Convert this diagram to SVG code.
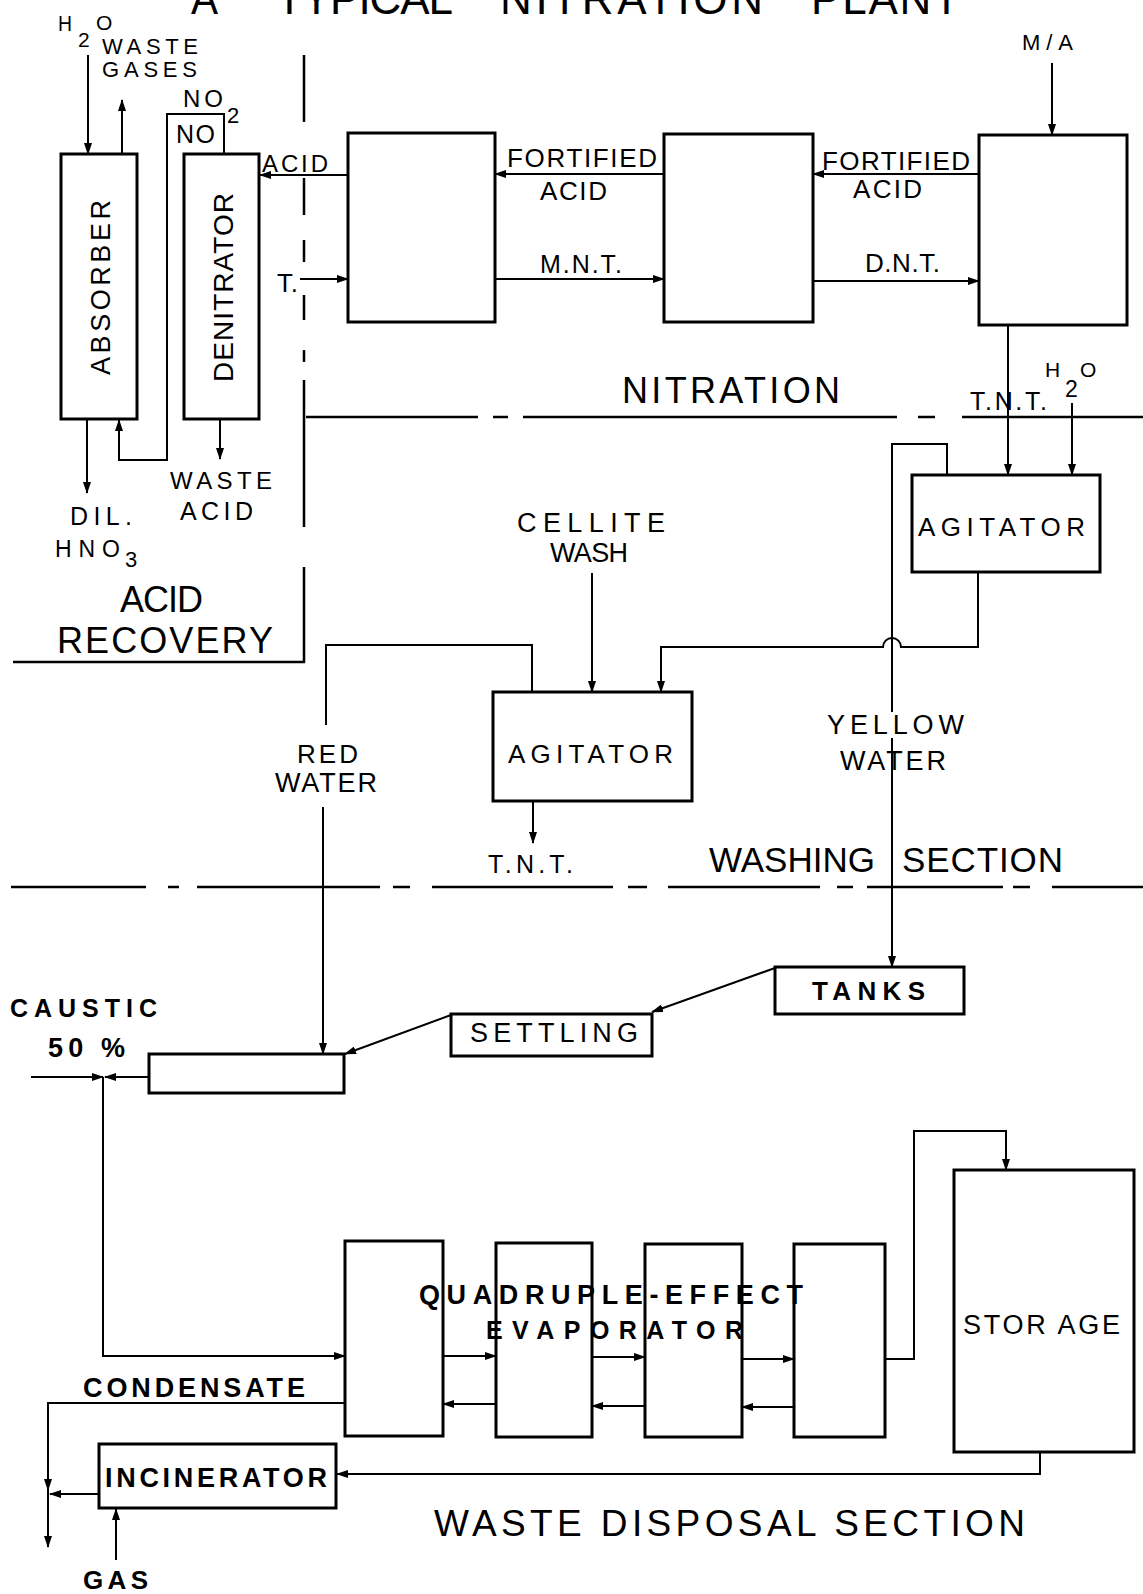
<svg xmlns="http://www.w3.org/2000/svg" width="1143" height="1594" viewBox="0 0 1143 1594">
<style>
.bg{fill:#fff}
.box{fill:none;stroke:#000;stroke-width:3}
.ln{fill:none;stroke:#000;stroke-width:2}
.bd{fill:none;stroke:#000;stroke-width:2.5}
.ar{marker-end:url(#ah)}
text{font-family:"Liberation Sans",Arial,sans-serif;fill:#000}
</style>
<defs>
<marker id="ah" markerUnits="userSpaceOnUse" markerWidth="12" markerHeight="8" refX="11" refY="4" orient="auto">
<path d="M0,0 L12,4 L0,8 z" fill="#000"/>
</marker>
</defs>
<rect class="bg" x="0" y="0" width="1143" height="1594"/>

<g id="title">
<text x="191" y="14" font-size="44" textLength="27" lengthAdjust="spacingAndGlyphs">A</text>
<text x="276" y="14" font-size="44" textLength="177" lengthAdjust="spacing">TYPICAL</text>
<text x="500" y="14" font-size="44" textLength="263" lengthAdjust="spacing">NITRATION</text>
<text x="811" y="14" font-size="44" textLength="149" lengthAdjust="spacing">PLANT</text>
</g>

<g id="section-boundaries">
<path class="bd" d="M304,55 V122 M304,178 V215 M304,240 V262 M304,295 V320 M304,350 V362 M304,380 V527 M304,567 V662 H13"/>
<path class="bd" d="M306,417 H478 M493,417 H508 M523,417 H897 M918,417 H935 M962,417 H1143"/>
<path class="bd" d="M11,887 H146 M168,887 H179 M197,887 H380 M393,887 H410 M432,887 H613 M628,887 H647 M668,887 H820 M837,887 H853 M867,887 H1003 M1013,887 H1030 M1052,887 H1143"/>
<text x="622" y="403" font-size="36" textLength="218" lengthAdjust="spacing">NITRATION</text>
<text x="120" y="612" font-size="36" textLength="83" lengthAdjust="spacing">ACID</text>
<text x="57" y="653" font-size="36" textLength="216" lengthAdjust="spacing">RECOVERY</text>
<text x="709" y="872" font-size="35" textLength="166" lengthAdjust="spacing">WASHING</text>
<text x="902" y="872" font-size="35" textLength="161" lengthAdjust="spacing">SECTION</text>
<text x="434" y="1536" font-size="37" textLength="591" lengthAdjust="spacing">WASTE DISPOSAL SECTION</text>
</g>

<g id="connectors">
<path class="ln ar" d="M88,55 V154"/>
<path class="ln ar" d="M122,154 V100"/>
<path class="ln ar" d="M224,154 V114 H167 V460 H119 V420"/>
<path class="ln ar" d="M87,419 V493"/>
<path class="ln ar" d="M220,419 V459"/>
<path class="ln ar" d="M348,175 H260"/>
<path class="ln ar" d="M300,279 H348"/>
<path class="ln ar" d="M664,174 H495"/>
<path class="ln ar" d="M495,279 H664"/>
<path class="ln ar" d="M979,174 H813"/>
<path class="ln ar" d="M813,281 H979"/>
<path class="ln ar" d="M1052,63 V135"/>
<path class="ln ar" d="M1008,325 V475"/>
<path class="ln ar" d="M1072,403 V475"/>
<path class="ln" d="M947,475 V444 H892 V712"/>
<path class="ln ar" d="M892,738 V967"/>
<path class="ln ar" d="M978,572 V647 H901 A9,9 0 0 0 883,647 H661 V692"/>
<path class="ln ar" d="M592,573 V692"/>
<path class="ln" d="M532,692 V645 H326 V725"/>
<path class="ln ar" d="M323,807 V1054"/>
<path class="ln ar" d="M533,801 V843"/>
<path class="ln ar" d="M775,968 L652,1012"/>
<path class="ln ar" d="M451,1015 L345,1054"/>
<path class="ln ar" d="M31,1077 H103"/>
<path class="ln ar" d="M149,1077 H105"/>
<path class="ln ar" d="M103,1077 V1356 H345"/>
<path class="ln ar" d="M443,1356 H496"/>
<path class="ln ar" d="M592,1357 H645"/>
<path class="ln ar" d="M742,1359 H794"/>
<path class="ln ar" d="M496,1404 H443"/>
<path class="ln ar" d="M645,1406 H592"/>
<path class="ln ar" d="M794,1407 H742"/>
<path class="ln ar" d="M885,1359 H914 V1131 H1006 V1170"/>
<path class="ln ar" d="M345,1403 H48 V1490"/>
<path class="ln ar" d="M48,1488 V1547"/>
<path class="ln ar" d="M99,1494 H50"/>
<path class="ln ar" d="M116,1560 V1509"/>
<path class="ln ar" d="M1040,1452 V1474 H337"/>
</g>

<g id="stream-labels">
<text x="58" y="31" font-size="22" textLength="14" lengthAdjust="spacingAndGlyphs">H</text>
<text x="78" y="47" font-size="21">2</text>
<text x="96" y="30" font-size="21">O</text>
<text x="102" y="54" font-size="22" textLength="96" lengthAdjust="spacing">WASTE</text>
<text x="102" y="77" font-size="22" textLength="95" lengthAdjust="spacing">GASES</text>
<text x="183" y="107" font-size="24" textLength="40" lengthAdjust="spacing">NO</text>
<text x="227" y="123" font-size="22">2</text>
<text x="176" y="143" font-size="25" textLength="39" lengthAdjust="spacing">NO</text>
<text x="262" y="172" font-size="24" textLength="66" lengthAdjust="spacing">ACID</text>
<text x="277" y="292" font-size="26" textLength="21" lengthAdjust="spacing">T.</text>
<text x="170" y="489" font-size="24" textLength="102" lengthAdjust="spacing">WASTE</text>
<text x="180" y="520" font-size="25" textLength="73" lengthAdjust="spacing">ACID</text>
<text x="70" y="525" font-size="25" textLength="62" lengthAdjust="spacing">DIL.</text>
<text x="55" y="557" font-size="23" textLength="65" lengthAdjust="spacing">HNO</text>
<text x="125" y="567" font-size="22">3</text>
<text x="507" y="167" font-size="26" textLength="150" lengthAdjust="spacing">FORTIFIED</text>
<text x="540" y="200" font-size="26" textLength="67" lengthAdjust="spacing">ACID</text>
<text x="540" y="273" font-size="25" textLength="82" lengthAdjust="spacing">M.N.T.</text>
<text x="822" y="170" font-size="26" textLength="148" lengthAdjust="spacing">FORTIFIED</text>
<text x="853" y="198" font-size="26" textLength="69" lengthAdjust="spacing">ACID</text>
<text x="865" y="272" font-size="26" textLength="75" lengthAdjust="spacing">D.N.T.</text>
<text x="1022" y="50" font-size="22" textLength="51" lengthAdjust="spacing">M/A</text>
<text x="970" y="410" font-size="25" textLength="77" lengthAdjust="spacing">T.N.T.</text>
<text x="1045" y="377" font-size="21">H</text>
<text x="1065" y="397" font-size="23">2</text>
<text x="1080" y="377" font-size="21">O</text>
<text x="517" y="532" font-size="27" textLength="148" lengthAdjust="spacing">CELLITE</text>
<text x="550" y="562" font-size="27" textLength="78" lengthAdjust="spacing">WASH</text>
<text x="827" y="734" font-size="27" textLength="137" lengthAdjust="spacing">YELLOW</text>
<text x="840" y="770" font-size="27" textLength="106" lengthAdjust="spacing">WATER</text>
<text x="297" y="763" font-size="26" textLength="61" lengthAdjust="spacing">RED</text>
<text x="275" y="792" font-size="27" textLength="102" lengthAdjust="spacing">WATER</text>
<text x="488" y="873" font-size="25" textLength="85" lengthAdjust="spacing">T.N.T.</text>
<text x="10" y="1017" font-size="25" font-weight="bold" textLength="147" lengthAdjust="spacing">CAUSTIC</text>
<text x="48" y="1057" font-size="27" font-weight="bold" textLength="77" lengthAdjust="spacing">50 %</text>
<text x="419" y="1304" font-size="27" font-weight="bold" textLength="384" lengthAdjust="spacing">QUADRUPLE-EFFECT</text>
<text x="486" y="1339" font-size="25" font-weight="bold" textLength="257" lengthAdjust="spacing">EVAPORATOR</text>
<text x="83" y="1397" font-size="27" font-weight="bold" textLength="222" lengthAdjust="spacing">CONDENSATE</text>
<text x="83" y="1589" font-size="26" font-weight="bold" textLength="65" lengthAdjust="spacing">GAS</text>
</g>

<g id="absorber">
<rect class="box" x="61" y="154" width="76" height="265"/>
<text transform="translate(110,375) rotate(-90)" font-size="27" textLength="175" lengthAdjust="spacing">ABSORBER</text>
</g>
<g id="denitrator">
<rect class="box" x="184" y="154" width="75" height="265"/>
<text transform="translate(233,382) rotate(-90)" font-size="28" textLength="189" lengthAdjust="spacing">DENITRATOR</text>
</g>
<g id="nitrator-1"><rect class="box" x="348" y="133" width="147" height="189"/></g>
<g id="nitrator-2"><rect class="box" x="664" y="134" width="149" height="188"/></g>
<g id="nitrator-3"><rect class="box" x="979" y="135" width="148" height="190"/></g>
<g id="agitator-1">
<rect class="box" x="912" y="475" width="188" height="97"/>
<text x="918" y="536" font-size="26" textLength="167" lengthAdjust="spacing">AGITATOR</text>
</g>
<g id="agitator-2">
<rect class="box" x="493" y="692" width="199" height="109"/>
<text x="508" y="763" font-size="26" textLength="165" lengthAdjust="spacing">AGITATOR</text>
</g>
<g id="tanks">
<rect class="box" x="775" y="967" width="189" height="47"/>
<text x="812" y="1000" font-size="26" font-weight="bold" textLength="113" lengthAdjust="spacing">TANKS</text>
</g>
<g id="settling">
<rect class="box" x="451" y="1014" width="201" height="42"/>
<text x="470" y="1042" font-size="27" textLength="168" lengthAdjust="spacing">SETTLING</text>
</g>
<g id="caustic-tank"><rect class="box" x="149" y="1054" width="195" height="39"/></g>
<g id="evaporator-1"><rect class="box" x="345" y="1241" width="98" height="195"/></g>
<g id="evaporator-2"><rect class="box" x="496" y="1243" width="96" height="194"/></g>
<g id="evaporator-3"><rect class="box" x="645" y="1244" width="97" height="193"/></g>
<g id="evaporator-4"><rect class="box" x="794" y="1244" width="91" height="193"/></g>
<g id="storage">
<rect class="box" x="954" y="1170" width="180" height="282"/>
<text x="963" y="1334" font-size="27" textLength="157" lengthAdjust="spacing">STOR AGE</text>
</g>
<g id="incinerator">
<rect class="box" x="99" y="1444" width="237" height="64"/>
<text x="105" y="1487" font-size="27" font-weight="bold" textLength="222" lengthAdjust="spacing">INCINERATOR</text>
</g>
</svg>
